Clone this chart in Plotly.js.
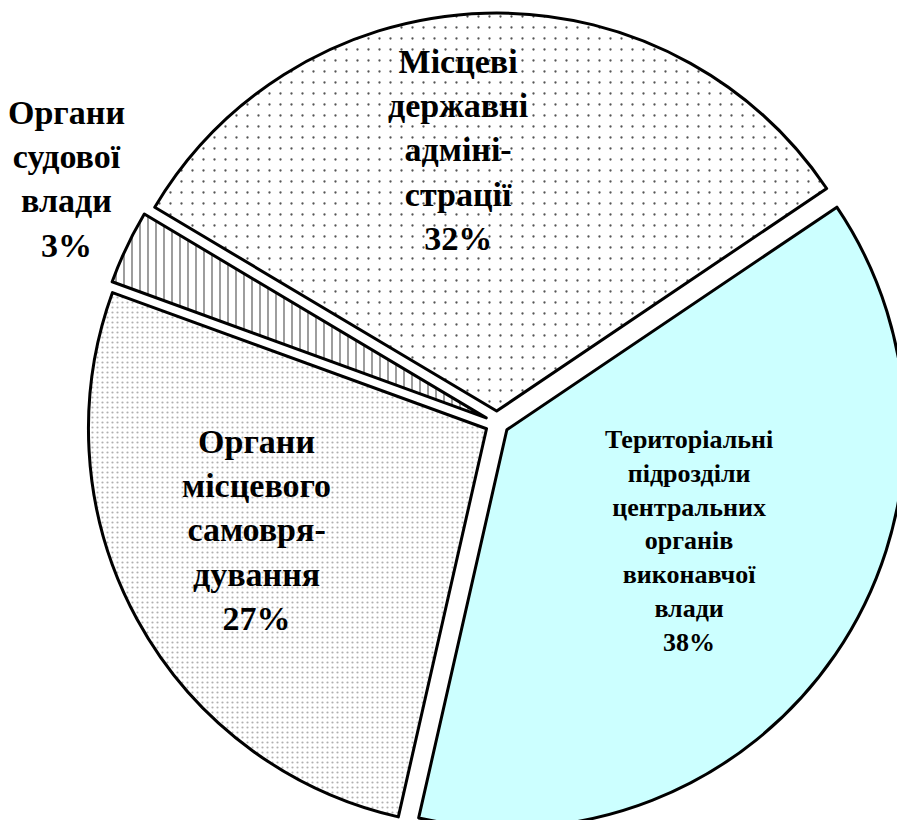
<!DOCTYPE html>
<html>
<head>
<meta charset="utf-8">
<script src="https://cdn.plot.ly/plotly-3.0.1.min.js"></script>
<style>
html, body { margin: 0; padding: 0; overflow: hidden; background: #fff; }
#chart { width: 920px; height: 840px; }
</style>
</head>
<body>
<div id="chart"></div>
<script>
const labels = [
  "Територіальні<br>підрозділи<br>центральних<br>органів<br>виконавчої<br>влади",
  "Органи<br>місцевого<br>самовря-<br>дування",
  "Органи<br>судової<br>влади",
  "Місцеві<br>державні<br>адміні-<br>страції"
];
const values = [38, 27, 3, 32];
const fillColors = ["#ccffff", "#ffffff", "#ffffff", "#ffffff"];
const patternShapes = ["", ".", "|", "."];
const patternColors = ["#000000", "#b0b0b0", "#444444", "#555555"];
const patternSizes = [8, 5, 8, 11];
const patternSolidity = [0.3, 0.15, 0.13, 0.035];
const textSizes = [26, 34, 34, 34];
// label anchor positions (paper coords of the plot area)
const labelX = [0.7341, 0.2073, -0.0244, 0.4524];
const labelY = [0.3561, 0.3695, 0.7976, 0.8329];

const total = values.reduce((a, b) => a + b, 0);

const trace = {
  type: "pie",
  labels: labels,
  values: values,
  sort: false,
  direction: "clockwise",
  rotation: 56,
  pull: 0.03,
  textinfo: "none",
  marker: {
    colors: fillColors,
    line: { color: "#000", width: 3 },
    pattern: {
      shape: patternShapes,
      fgcolor: patternColors,
      size: patternSizes,
      solidity: patternSolidity,
      fillmode: "replace"
    }
  },
  hoverinfo: "none"
};

const annotations = labels.map((lab, i) => ({
  xref: "paper", yref: "paper",
  x: labelX[i], y: labelY[i],
  xanchor: "center", yanchor: "middle",
  showarrow: false,
  align: "center",
  text: lab + "<br>" + Math.round(values[i] / total * 100) + "%",
  font: { family: "Liberation Serif", size: textSizes[i], color: "#000", weight: "bold" }
}));

const layout = {
  width: 920,
  height: 840,
  margin: { l: 87, r: 13, t: 13, b: 7 },
  showlegend: false,
  paper_bgcolor: "#fff",
  font: { family: "Liberation Serif" },
  annotations: annotations
};

Plotly.newPlot("chart", [trace], layout, { displayModeBar: false, staticPlot: true });
</script>
</body>
</html>
